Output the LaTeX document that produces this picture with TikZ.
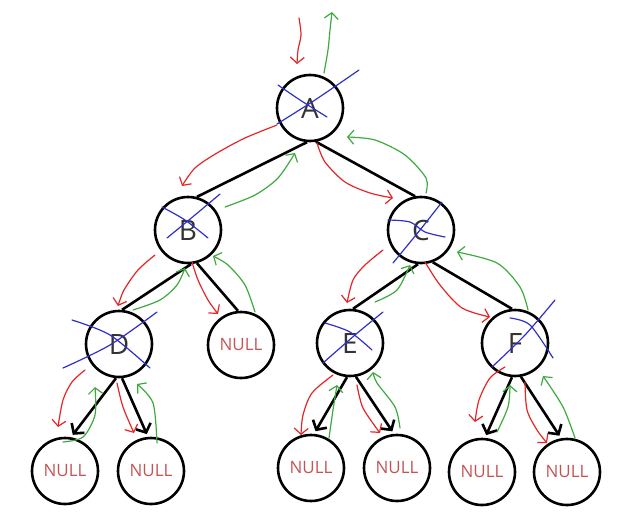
\documentclass[tikz,border=0pt]{standalone}
\usepackage{fontspec}
\setmainfont{Open Sans}
\usetikzlibrary{arrows.meta}
\definecolor{lblgray}{RGB}{51,51,51}
\definecolor{nullred}{RGB}{196,84,84}
\definecolor{penred}{RGB}{228,38,38}
\definecolor{pengreen}{RGB}{62,170,62}
\definecolor{penblue}{RGB}{48,48,200}
\tikzset{
  treenode/.style={circle, draw=black, line width=2.6pt, minimum size=66pt, inner sep=0pt,
    text=lblgray, font=\fontsize{28}{30}\selectfont},
  nullnode/.style={treenode, text=nullred, font=\fontsize{17}{19}\selectfont},
  edge/.style={draw=black, line width=2.6pt},
  leafedge/.style={edge, -{Straight Barb[length=7pt,width=16pt]}, shorten >=3pt},
  redpen/.style={draw=penred, line width=1.2pt, line cap=round, -{Straight Barb[length=6pt,width=14pt]}},
  greenpen/.style={draw=pengreen, line width=1.2pt, line cap=round, -{Straight Barb[length=6pt,width=14pt]}},
  bluepen/.style={draw=penblue, line width=1.2pt, line cap=round},
}
\begin{document}
\begin{tikzpicture}[x=1pt,y=-1pt]
\useasboundingbox (0,0) rectangle (626,520);
% nodes
\node[treenode] (A) at (310,108) {A};
\node[treenode] (B) at (188,230) {B};
\node[treenode] (C) at (421,230) {C};
\node[treenode] (D) at (119,344) {D};
\node[nullnode] (NB) at (241,345) {NULL};
\node[treenode] (E) at (350,343) {E};
\node[treenode] (F) at (515,343) {F};
\node[nullnode] (L1) at (65,471) {NULL};
\node[nullnode] (L2) at (151,471) {NULL};
\node[nullnode] (L3) at (311,468) {NULL};
\node[nullnode] (L4) at (397,468) {NULL};
\node[nullnode] (L5) at (482,472) {NULL};
\node[nullnode] (L6) at (567,472) {NULL};
% black edges
\draw[edge] (A.265) -- (B.75);
\draw[edge] (A.280) -- (C.100);
\draw[edge] (B.275) -- (D.85);
\draw[edge] (B.285) -- (NB.95);
\draw[edge] (C.265) -- (E.85);
\draw[edge] (C.290) -- (F.95);
\draw[leafedge] (D.265) -- (L1.80);
\draw[leafedge] (D.275) -- (L2.95);
\draw[leafedge] (E.265) -- (L3.85);
\draw[leafedge] (E.280) -- (L4.95);
\draw[leafedge] (F.265) -- (L5.85);
\draw[leafedge] (F.280) -- (L6.100);
% red pen strokes
\draw[redpen] plot[smooth] coordinates {(299,18) (301,35) (298,50) (297,64)};
\draw[redpen] plot[smooth] coordinates {(277,125) (245,138) (217,153) (195,168) (182,186)};
\draw[redpen] plot[smooth] coordinates {(317,143) (325,162) (345,182) (370,193) (393,198)};
\draw[redpen] plot[smooth] coordinates {(155,255) (138,270) (124,290) (118,306)};
\draw[redpen] plot[smooth] coordinates {(192,262) (198,280) (208,300) (218,314)};
\draw[redpen] plot[smooth] coordinates {(85,370) (72,382) (63,400) (58,427)};
\draw[redpen] plot[smooth] coordinates {(117,383) (123,407) (134,433)};
\draw[redpen] plot[smooth] coordinates {(383,250) (365,265) (353,280) (347,303)};
\draw[redpen] plot[smooth] coordinates {(425,262) (440,285) (462,308) (490,317)};
\draw[redpen] plot[smooth] coordinates {(333,375) (312,393) (303,415) (301,435)};
\draw[redpen] plot[smooth] coordinates {(357,385) (363,408) (380,433)};
\draw[redpen] plot[smooth] coordinates {(505,367) (490,378) (479,400) (475,422)};
\draw[redpen] plot[smooth] coordinates {(525,382) (527,410) (537,430) (547,443)};
% green pen strokes
\draw[greenpen] plot[smooth] coordinates {(324,73) (328,50) (330,30) (332,12)};
\draw[greenpen] plot[smooth] coordinates {(225,207) (255,195) (278,178) (295,153)};
\draw[greenpen] plot[smooth] coordinates {(426,193) (426,178) (405,155) (375,140) (347,137)};
\draw[greenpen] plot[smooth] coordinates {(133,310) (160,300) (177,285) (185,268)};
\draw[greenpen] plot[smooth] coordinates {(255,312) (245,285) (228,265) (213,256)};
\draw[greenpen] plot[smooth] coordinates {(63,442) (83,437) (95,415) (95,387)};
\draw[greenpen] plot[smooth] coordinates {(157,443) (153,403) (137,384)};
\draw[greenpen] plot[smooth] coordinates {(375,302) (397,290) (410,265)};
\draw[greenpen] plot[smooth] coordinates {(528,310) (520,287) (497,263) (457,252)};
\draw[greenpen] plot[smooth] coordinates {(329,438) (333,410) (337,385)};
\draw[greenpen] plot[smooth] coordinates {(400,428) (395,407) (377,383) (373,372)};
\draw[greenpen] plot[smooth] coordinates {(497,432) (508,407) (510,385)};
\draw[greenpen] plot[smooth] coordinates {(575,438) (563,407) (543,376)};
% blue crosses
\draw[bluepen] plot[smooth] coordinates {(278,85) (300,100) (327,117)};
\draw[bluepen] plot[smooth] coordinates {(277,124) (315,100) (359,70)};
\draw[bluepen] plot[smooth] coordinates {(162,207) (185,220) (208,238)};
\draw[bluepen] plot[smooth] coordinates {(167,238) (195,215) (220,194)};
\draw[bluepen] plot[smooth] coordinates {(388,220) (410,222) (425,232) (445,237)};
\draw[bluepen] plot[smooth] coordinates {(393,263) (420,230) (442,202)};
\draw[bluepen] plot[smooth] coordinates {(72,320) (110,335) (150,368)};
\draw[bluepen] plot[smooth] coordinates {(63,368) (110,345) (157,312)};
\draw[bluepen] plot[smooth] coordinates {(325,323) (350,332) (372,350)};
\draw[bluepen] plot[smooth] coordinates {(323,363) (355,335) (383,312)};
\draw[bluepen] plot[smooth] coordinates {(510,318) (530,325) (553,358)};
\draw[bluepen] plot[smooth] coordinates {(492,367) (525,335) (555,300)};
\end{tikzpicture}
\end{document}
